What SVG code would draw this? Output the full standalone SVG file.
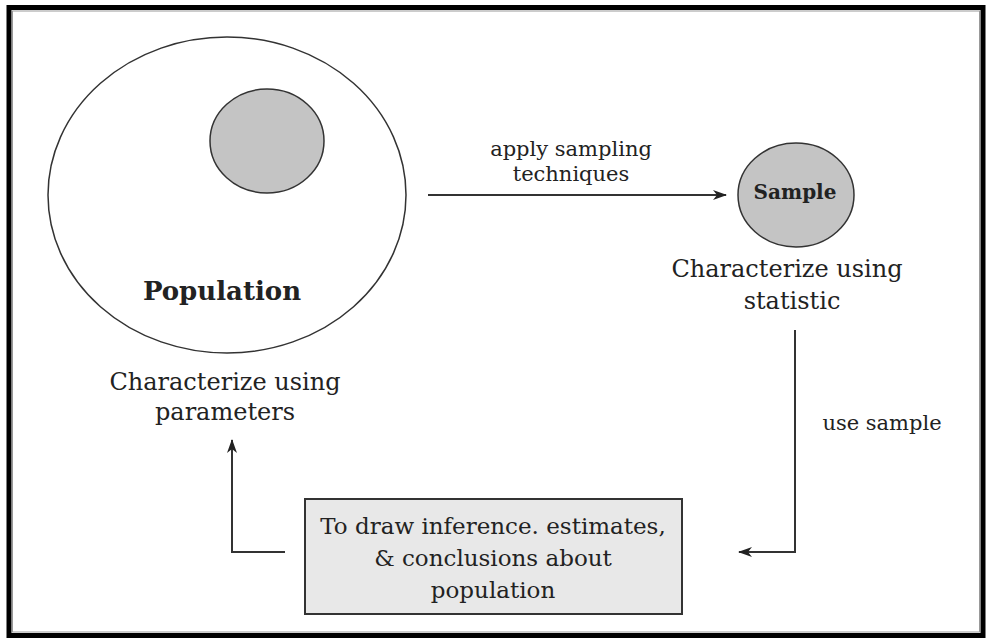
<svg xmlns="http://www.w3.org/2000/svg" width="989" height="640" viewBox="0 0 989 640">
<style>
.t{font-family:"DejaVu Serif","Liberation Serif",serif;fill:#222;text-anchor:middle}
.b{font-weight:bold}
.c{stroke:#333;stroke-width:2;fill:none}
</style>
<defs>
<marker id="ah" markerWidth="14" markerHeight="10" refX="13" refY="5" orient="auto" markerUnits="userSpaceOnUse">
<path d="M0,0 L14,5 L0,10 L4,5 Z" fill="#222"/>
</marker>
</defs>
<rect x="0" y="0" width="989" height="640" fill="#fff"/>
<rect x="9" y="7.5" width="974" height="628" fill="none" stroke="#000" stroke-width="5"/>
<rect x="12.5" y="11" width="967" height="621" fill="none" stroke="#999" stroke-width="1"/>
<g id="population">
<ellipse cx="227" cy="195" rx="179" ry="158" fill="#fff" stroke="#333" stroke-width="1.5"/>
<ellipse cx="267" cy="141" rx="57" ry="52" fill="#c4c4c4" stroke="#333" stroke-width="1.5"/>
<text class="t b" x="222" y="300" font-size="26">Population</text>
<text class="t" x="225" y="390" font-size="24">Characterize using</text>
<text class="t" x="225" y="420" font-size="24">parameters</text>
</g>
<g id="sample">
<ellipse cx="796" cy="195" rx="58" ry="52" fill="#c4c4c4" stroke="#333" stroke-width="1.5"/>
<text class="t b" x="795" y="199" font-size="20">Sample</text>
<text class="t" x="787" y="277" font-size="24">Characterize using</text>
<text class="t" x="792" y="309" font-size="24">statistic</text>
</g>
<g id="inference">
<rect x="305" y="499" width="377" height="115" fill="#e8e8e8" stroke="#333" stroke-width="2"/>
<text class="t" x="493" y="534" font-size="23">To draw inference. estimates,</text>
<text class="t" x="493" y="566" font-size="23">&amp; conclusions about</text>
<text class="t" x="493" y="598" font-size="23">population</text>
</g>
<g id="connectors">
<line class="c" x1="428" y1="195" x2="726" y2="195" marker-end="url(#ah)"/>
<text class="t" x="571" y="156" font-size="21">apply sampling</text>
<text class="t" x="571" y="181" font-size="21">techniques</text>
<polyline class="c" points="795,330 795,552 739,552" marker-end="url(#ah)"/>
<text class="t" x="882" y="430" font-size="21">use sample</text>
<polyline class="c" points="285,552 232,552 232,440" marker-end="url(#ah)"/>
</g>
</svg>
